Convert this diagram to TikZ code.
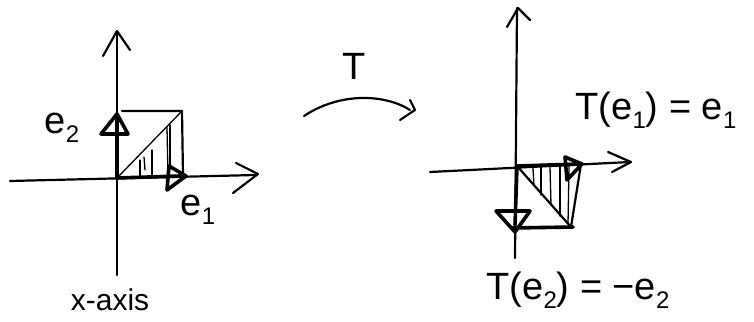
\documentclass[tikz,border=0pt]{standalone}
\usepackage{fontspec}
\setmainfont{Liberation Sans}
\newcommand{\sbs}[1]{\raisebox{-0.25em}{\fontsize{24}{28}\selectfont #1}}
\begin{document}
\begin{tikzpicture}[x=1pt,y=-1pt,
  pen/.style={line width=2.2pt,line cap=round,line join=round},
  thickpen/.style={line width=3.6pt,line cap=round,line join=round},
  thin/.style={line width=1.3pt,line cap=round},
  lbl/.style={inner sep=0pt,font=\fontsize{38}{42}\selectfont}]
\useasboundingbox (0,0) rectangle (754,321);
% ---------- left plane
\coordinate (O1) at (117,178);
\draw[pen] (117,275) -- (117,32);
\draw[pen] (103,56) -- (117,31) -- (130,50);
\draw[pen] (10,181) -- (255,175);
\draw[pen] (236,163) -- (258,174) -- (233,193);
% square
\draw[pen] (122,111) -- (182,111) -- (183,176);
\draw[thin] (O1) -- (182,111);
\draw[thickpen] (O1) -- (180,176);
\draw[thickpen] (O1) -- (117,120);
% e2 head
\draw[thickpen] (117,114) -- (101,134) -- (128,134) -- cycle;
% e1 head
\draw[thickpen] (186,176) -- (169,166) -- (167,190) -- cycle;
% hatching
\draw[thin] (140,160) -- (140,176);
\draw[thin] (144,157) -- (145,170);
\draw[thin] (152,150) -- (152,178);
\draw[thin] (167,127) -- (168,176);
\draw[thin] (170,125) -- (170,166);
\node[lbl] (e2) at (62,128) {e\sbs{2}};
\node[lbl] (e1) at (198,210) {e\sbs{1}};
\node[inner sep=0pt,anchor=base,font=\fontsize{30}{32}\selectfont] (xa) at (110,310) {x-axis};
% ---------- T arrow
\node[lbl] (T) at (354,66) {T};
\draw[pen] (304,116) .. controls (340,92) and (385,94) .. (410,110);
\draw[pen] (410,100) -- (415,110) -- (400,120);
% ---------- right plane
\coordinate (O2) at (517,166);
\draw[pen] (515,258) -- (517,8);
\draw[pen] (507,27) -- (518,8) -- (530,20);
\draw[pen] (430,172) -- (630,162);
\draw[pen] (608,152) -- (631,162) -- (612,172);
\draw[thickpen] (O2) -- (581,164);
\draw[pen] (581,164) -- (571,227);
\draw[thickpen] (512,228) -- (573,227);
\draw[pen] (O2) -- (571,227);
\draw[thickpen] (O2) -- (515,225);
% e1 head
\draw[thickpen] (582,164) -- (565,157) -- (567,180) -- cycle;
% -e2 head
\draw[thickpen] (515,232) -- (496,211) -- (530,211) -- cycle;
% hatching
\draw[thin] (533,168) -- (534,186);
\draw[thin] (541,167) -- (541,195);
\draw[thin] (550,167) -- (551,205);
\draw[thin] (560,166) -- (560,216);
\draw[thin] (569,166) -- (568,224);
\node[lbl] (Te1) at (656,110) {T(e\sbs{1}) = e\sbs{1}};
\node[lbl] (Te2) at (578,290) {T(e\sbs{2}) = {\char"2212}e\sbs{2}};
\end{tikzpicture}
\end{document}
